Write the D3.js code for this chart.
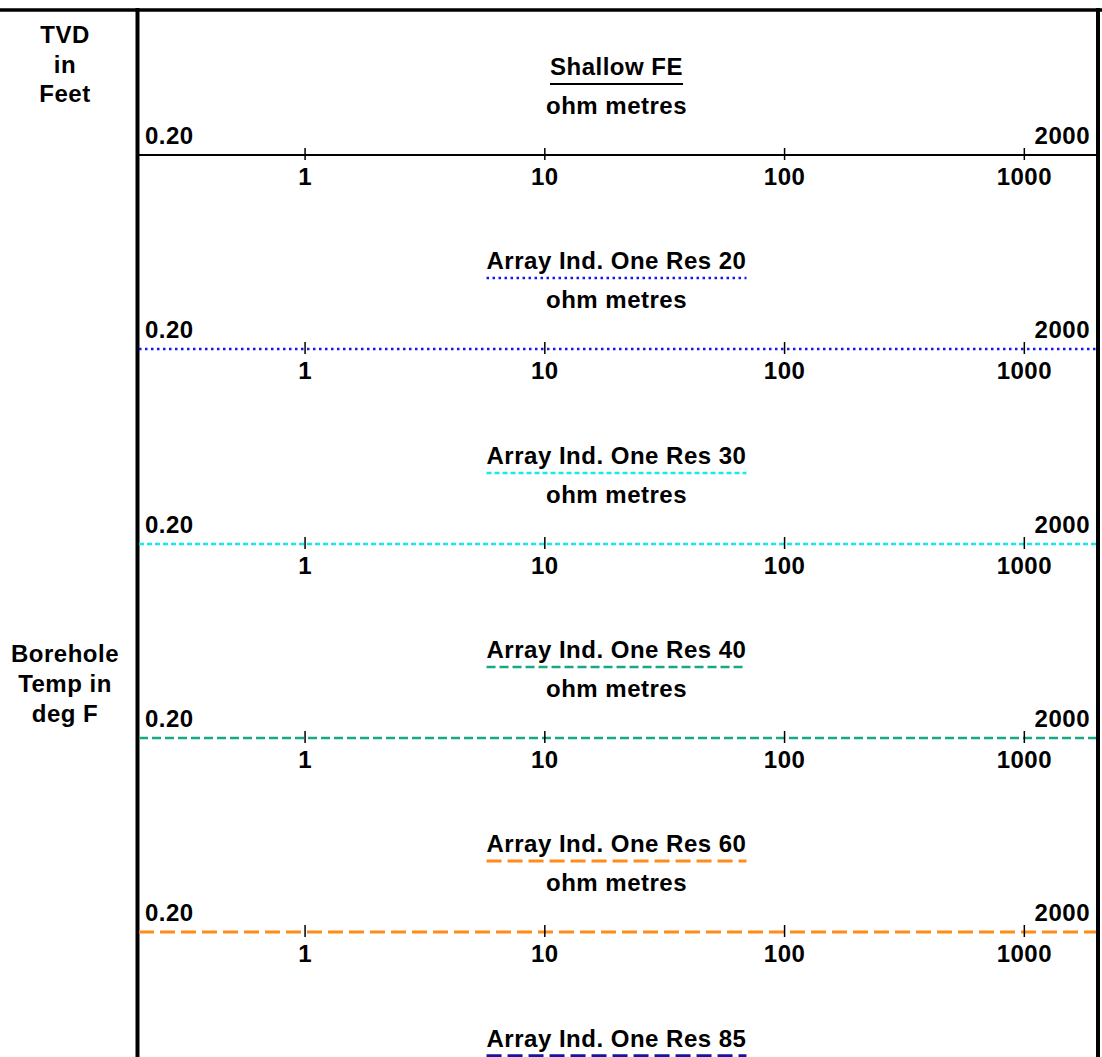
<!DOCTYPE html>
<html><head><meta charset="utf-8">
<script src="https://cdn.jsdelivr.net/npm/d3@7"></script>
<style>
html,body{margin:0;padding:0;background:#fff;}
text{font-family:"Liberation Sans",Arial,sans-serif;font-weight:bold;fill:#000;letter-spacing:0.5px;}
</style></head>
<body><svg id="c" width="1102" height="1057"></svg>
<script>
// ---- data ----
const trackNames = ["Shallow FE","Array Ind. One Res 20","Array Ind. One Res 30","Array Ind. One Res 40","Array Ind. One Res 60","Array Ind. One Res 85"];
const trackUnits = ["ohm metres","ohm metres","ohm metres","ohm metres","ohm metres","ohm metres"];
const scaleLeft = [0.2,0.2,0.2,0.2,0.2,0.2];
const scaleRight = [2000,2000,2000,2000,2000,2000];
const scaleLeftLabels = ["0.20","0.20","0.20","0.20","0.20","0.20"];
const scaleRightLabels = ["2000","2000","2000","2000","2000","2000"];
const tickValues = [1,10,100,1000];
const depthLabel = ["TVD","in","Feet"];
const tempLabel = ["Borehole","Temp in","deg F"];
// ---- styles ----
const lineColors = ["#000000","#1515f0","#18e8e8","#17a884","#ff8c1a","#1515a0"];
const lineDash = [null,"2.5,3.5","5,3","9,4","15,6","15,6"];
const lineWidth = [2,2.5,2.5,2.5,3,3.5];

const svg = d3.select("#c");
const W = 1102, H = 1057;
const x0 = 137, x1 = 1096;
const rowTop = 155, rowStep = 194.3;
const fs = 24;

// frame
svg.append("line").attr("x1",0).attr("x2",W).attr("y1",10).attr("y2",10).attr("stroke","#000").attr("stroke-width",3.5);
svg.append("line").attr("x1",137.5).attr("x2",137.5).attr("y1",8).attr("y2",H).attr("stroke","#000").attr("stroke-width",4);
svg.append("line").attr("x1",1098).attr("x2",1098).attr("y1",8).attr("y2",H).attr("stroke","#000").attr("stroke-width",4);

// left column labels
const colX = 65;
depthLabel.forEach((t,i)=>svg.append("text").attr("x",colX).attr("y",43+29.5*i).attr("text-anchor","middle").attr("font-size",fs).text(t));
tempLabel.forEach((t,i)=>svg.append("text").attr("x",colX).attr("y",662+30*i).attr("text-anchor","middle").attr("font-size",fs).text(t));

const cx = (x0+x1)/2;
trackNames.forEach((name,i)=>{
  const L = Math.round(rowTop + rowStep*i);
  const xs = d3.scaleLog().domain([scaleLeft[i],scaleRight[i]]).range([x0,x1]);
  const g = svg.append("g");
  const vis = y => y < H - 4;
  if(vis(L-80)){
    const title = g.append("text").attr("x",cx).attr("y",L-80).attr("text-anchor","middle").attr("font-size",fs).text(name);
    const tw = title.node().getComputedTextLength();
    const ul = g.append("line").attr("x1",cx-tw/2).attr("x2",cx+tw/2).attr("y1",L-71).attr("y2",L-71)
      .attr("stroke",lineColors[i]).attr("stroke-width",lineWidth[i]);
    if(lineDash[i]) ul.attr("stroke-dasharray",lineDash[i]);
  }
  if(vis(L-41)) g.append("text").attr("x",cx).attr("y",L-41).attr("text-anchor","middle").attr("font-size",fs).text(trackUnits[i]);
  if(vis(L-11)){
    g.append("text").attr("x",x0+8).attr("y",L-11).attr("font-size",fs).text(scaleLeftLabels[i]);
    g.append("text").attr("x",x1-6).attr("y",L-11).attr("text-anchor","end").attr("font-size",fs).text(scaleRightLabels[i]);
  }
  if(vis(L)){
    const sl = g.append("line").attr("x1",xs(scaleLeft[i])+2).attr("x2",xs(scaleRight[i])).attr("y1",L).attr("y2",L)
      .attr("stroke",lineColors[i]).attr("stroke-width",lineWidth[i]);
    if(lineDash[i]) sl.attr("stroke-dasharray",lineDash[i]);
    const ax = g.append("g").attr("transform",`translate(0,${L})`)
      .call(d3.axisBottom(xs).tickValues(tickValues).tickFormat(d3.format("d")).tickSize(5));
    ax.select(".domain").remove();
    ax.selectAll(".tick line").attr("y1",-7).attr("y2",5).attr("stroke","#000").attr("stroke-width",1.5);
    ax.selectAll(".tick text").attr("y",30).attr("dy",null).attr("font-size",fs)
      .style("font-family","Liberation Sans, Arial, sans-serif").style("font-weight","bold").attr("fill","#000");
    ax.attr("font-size",fs).attr("font-family",null);
  }
});
</script></body></html>
